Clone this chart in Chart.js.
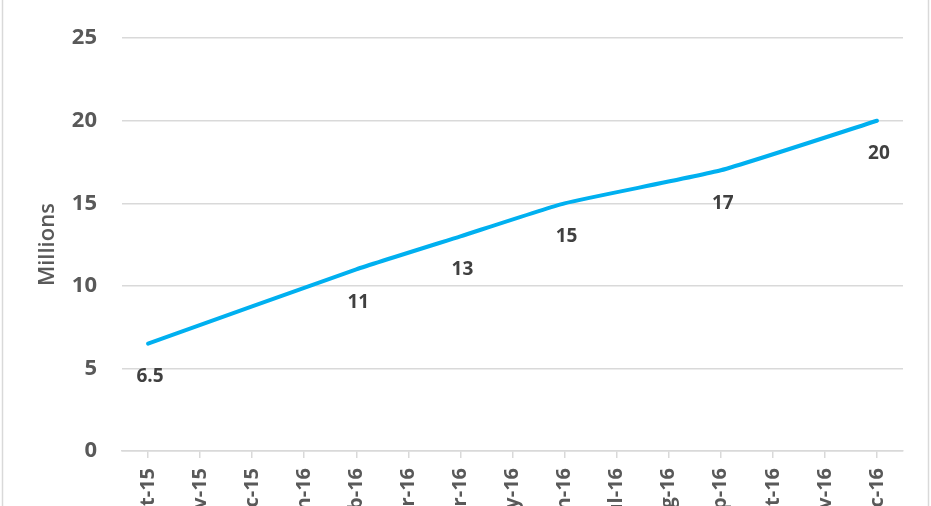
<!DOCTYPE html>
<html>
<head>
<meta charset="utf-8">
<script src="https://cdn.jsdelivr.net/npm/chart.js@4.4.1/dist/chart.umd.min.js"></script>
<style>
  html, body { margin: 0; padding: 0; background: #fff; overflow: hidden; }
  #wrap { width: 931px; height: 506px; overflow: hidden; }
</style>
</head>
<body>
<div id="wrap"><canvas id="chartUsers" width="931" height="545"></canvas></div>
<script>
// months shown on the x axis
const months = ['Oct-15', 'Nov-15', 'Dec-15', 'Jan-16', 'Feb-16', 'Mar-16', 'Apr-16',
                'May-16', 'Jun-16', 'Jul-16', 'Aug-16', 'Sep-16', 'Oct-16', 'Nov-16', 'Dec-16'];
// users in millions, only the reported months have a value
const users = [6.5, null, null, null, 11, null, 13, null, 15, null, null, 17, null, null, 20];
const yTicks = [0, 5, 10, 15, 20, 25];

const FONT = "'Open Sans', 'Liberation Sans', sans-serif";

// value labels under each point
const pointLabels = {
    id: 'pointLabels',
    afterDatasetsDraw(chart) {
        const ctx = chart.ctx;
        const meta = chart.getDatasetMeta(0);
        ctx.save();
        ctx.font = 'bold 19px ' + FONT;
        ctx.fillStyle = '#404040';
        ctx.textAlign = 'center';
        ctx.textBaseline = 'middle';
        meta.data.forEach((pt, i) => {
            const v = users[i];
            if (v === null) return;
            ctx.fillText(String(v), pt.x + 2, pt.y + 33);
        });
        ctx.restore();
    }
};

// thin frame of the chart box
const frame = {
    id: 'frame',
    beforeDraw(chart) {
        const ctx = chart.ctx;
        ctx.save();
        ctx.strokeStyle = '#d9d9d9';
        ctx.lineWidth = 1.5;
        ctx.beginPath();
        ctx.moveTo(2.5, 0); ctx.lineTo(2.5, chart.height);
        ctx.moveTo(928.5, 0); ctx.lineTo(928.5, chart.height);
        ctx.stroke();
        ctx.restore();
    }
};

new Chart(document.getElementById('chartUsers'), {
    type: 'line',
    data: {
        labels: months,
        datasets: [{
            data: users,
            borderColor: '#00b0f0',
            borderWidth: 4,
            pointRadius: 0,
            spanGaps: true,
            tension: 0.15,
            borderCapStyle: 'round'
        }]
    },
    options: {
        responsive: false,
        animation: false,
        layout: { padding: { top: 38, right: 28, left: 0, bottom: 0 } },
        plugins: {
            legend: { display: false },
            tooltip: { enabled: false }
        },
        scales: {
            x: {
                offset: true,
                grid: { drawOnChartArea: false, drawTicks: true, tickLength: 7, color: '#d9d9d9', lineWidth: 1.5 },
                border: { color: '#d9d9d9', width: 1.5 },
                ticks: {
                    color: '#595959',
                    font: { family: FONT, size: 20, weight: 'bold' },
                    minRotation: 90, maxRotation: 90,
                    padding: 10,
                    autoSkip: false
                },
                afterFit(scale) { scale.height = 94; }
            },
            y: {
                min: 0, max: 25,
                afterBuildTicks(scale) { scale.ticks = yTicks.map(v => ({ value: v })); },
                grid: { drawTicks: false, color: '#d9d9d9', lineWidth: 1.5 },
                border: { display: false },
                ticks: {
                    color: '#595959',
                    font: { family: FONT, size: 22, weight: 'bold' },
                    padding: 25
                },
                title: {
                    display: true,
                    text: 'Millions',
                    color: '#595959',
                    font: { family: FONT, size: 22, weight: '600' },
                    padding: { top: 35, bottom: 0 }
                },
                afterFit(scale) { scale.width = 122; }
            }
        }
    },
    plugins: [pointLabels, frame]
});
</script>
</body>
</html>
